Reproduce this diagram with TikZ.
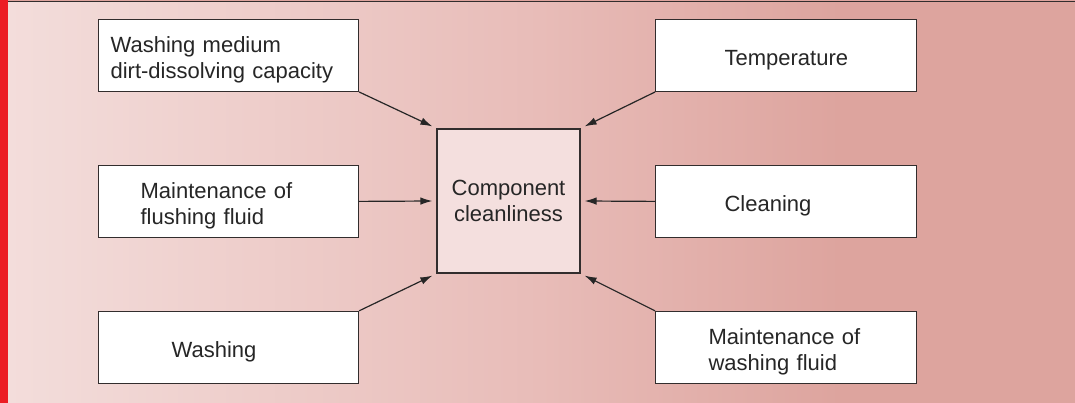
\documentclass[tikz,border=0pt]{standalone}
\usepackage{fontspec}
\setmainfont{Liberation Sans}
\usetikzlibrary{arrows.meta}
\definecolor{bgL}{RGB}{243,221,219}
\definecolor{bgM}{RGB}{232,188,184}
\definecolor{bgR}{RGB}{221,164,158}
\definecolor{redbar}{RGB}{236,28,36}
\definecolor{edge}{RGB}{50,45,45}
\definecolor{cfill}{RGB}{244,223,222}
\tikzset{
  x=1pt,y=1pt,
  box/.style={draw=edge,line width=1.2pt,fill=white,minimum height=72pt,
    align=left,font=\fontsize{22}{26}\selectfont,text=black!85,anchor=south west,
    execute at begin node={\rule{0pt}{24pt}}},
  arr/.style={draw=black!85,line width=1.2pt,-{Latex[length=12pt,width=7.5pt]}}
}
\begin{document}
\begin{tikzpicture}
\useasboundingbox (0,0) rectangle (1075,402);
\fill[bgR] (-2,-3) rectangle (1078,405);
\shade[left color=bgL,right color=bgM] (8,-3) rectangle (540.5,400);
\shade[left color=bgM,right color=bgR] (540,-3) rectangle (840.5,400);
\fill[redbar] (-2,-3) rectangle (8,405);
\draw[edge,line width=1.5pt] (8,400.5) -- (1078,400.5);

\node[box,text width=236pt,inner xsep=12pt] (b1) at (98,310) {Washing medium\\dirt-dissolving capacity};
\node[box,text width=176pt,inner xsep=42pt] (b2) at (98,164) {Maintenance of\\flushing fluid};
\node[box,text width=114pt,inner xsep=73pt] (b3) at (98,18) {Washing};
\node[box,text width=123pt,inner xsep=69pt] (b4) at (655,310) {Temperature};
\node[box,text width=123pt,inner xsep=69pt] (b5) at (655,164) {Cleaning};
\node[box,text width=155pt,inner xsep=53pt] (b6) at (655,18) {Maintenance of\\washing fluid};

\node[draw=edge,line width=1.2pt,fill=cfill,minimum width=143pt,minimum height=144pt,
  align=center,font=\fontsize{22}{26}\selectfont,text=black!85,
  execute at begin node={\rule{0pt}{25pt}}] (c) at (508.5,201) {Component\\cleanliness};

\draw[arr] (b1.south east) -- ([xshift=-4pt,yshift=2pt]c.north west);
\draw[arr] (b2.east) -- ([xshift=-4pt]c.west);
\draw[arr] (b3.north east) -- ([xshift=-4pt,yshift=-2pt]c.south west);
\draw[arr] (b4.south west) -- ([xshift=4pt,yshift=2pt]c.north east);
\draw[arr] (b5.west) -- ([xshift=4pt]c.east);
\draw[arr] (b6.north west) -- ([xshift=4pt,yshift=-2pt]c.south east);
\end{tikzpicture}
\end{document}
